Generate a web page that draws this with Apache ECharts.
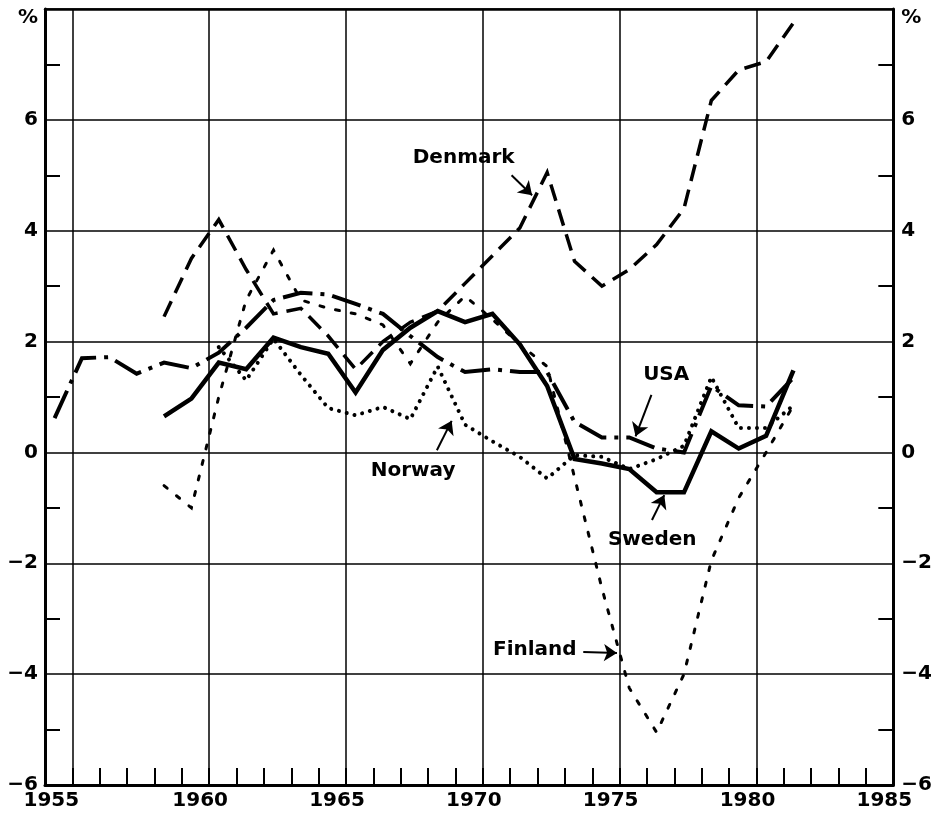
<!DOCTYPE html>
<html>
<head>
<meta charset="utf-8">
<script src="https://cdn.jsdelivr.net/npm/echarts@6/dist/echarts.min.js"></script>
<style>
  html, body { margin: 0; padding: 0; background: #fff; }
  #chart { width: 935px; height: 813px; }
</style>
</head>
<body>
<div id="chart"></div>
<script>
// Annual percentage change, 1954-1981
const years = [1954, 1955, 1956, 1957, 1958, 1959, 1960, 1961, 1962, 1963,
               1964, 1965, 1966, 1967, 1968, 1969, 1970, 1971, 1972, 1973,
               1974, 1975, 1976, 1977, 1978, 1979, 1980, 1981];

const usa = [0.62, 1.70, 1.72, 1.42, 1.62, 1.52, 1.80, 2.25, 2.75, 2.88,
             2.85, 2.68, 2.50, 2.10, 1.72, 1.45, 1.50, 1.45, 1.45, 0.55,
             0.27, 0.27, 0.07, 0.00, 1.20, 0.85, 0.83, 1.35];

const sweden = [null, null, null, null, 0.65, 0.97, 1.62, 1.50, 2.07, 1.90,
                1.78, 1.08, 1.85, 2.25, 2.55, 2.35, 2.50, 1.95, 1.20, -0.12,
                -0.20, -0.30, -0.72, -0.72, 0.38, 0.07, 0.30, 1.48];

const denmark = [null, null, null, null, 2.45, 3.50, 4.20, 3.30, 2.50, 2.60,
                 2.10, 1.50, 2.00, 2.35, 2.55, 3.05, 3.55, 4.05, 5.05, 3.45,
                 3.00, 3.30, 3.75, 4.40, 6.35, 6.90, 7.05, 7.75];

const finland = [null, null, null, null, -0.60, -1.00, 1.00, 2.75, 3.65, 2.75,
                 2.60, 2.50, 2.30, 1.60, 2.35, 2.82, 2.40, 1.95, 1.55, -0.45,
                 -2.45, -4.25, -5.05, -4.00, -1.95, -0.82, 0.00, 0.85];

const norway = [null, null, null, null, null, null, 1.90, 1.30, 2.05, 1.40,
                0.80, 0.67, 0.82, 0.60, 1.55, 0.50, 0.20, -0.08, -0.47, -0.05,
                -0.08, -0.30, -0.12, 0.12, 1.36, 0.44, 0.44, 0.85];

// Axis tick labels
const xTickLabels = [1955, 1960, 1965, 1970, 1975, 1980, 1985];
const yUnitLabel = '%';

// Yearly values sit a little to the right of each year's tick
const PLOT_OFFSET = 0.35;

const FONT = 'DejaVu Sans';
const INK = '#000';

function toPoints(values) {
  const pts = [];
  years.forEach((y, i) => {
    if (values[i] !== null) pts.push([y + PLOT_OFFSET, values[i]]);
  });
  return pts;
}

// Name labels with pointer arrows, in data coordinates
const annotations = {
  Denmark: { at: [1969.3, 5.31], arrow: [[1971.05, 5.0], [1971.8, 4.64]] },
  USA:     { at: [1976.7, 1.40], arrow: [[1976.16, 1.04], [1975.58, 0.29]] },
  Norway:  { at: [1967.45, -0.33], arrow: [[1968.32, 0.04], [1968.86, 0.57]] },
  Sweden:  { at: [1976.19, -1.58], arrow: [[1976.18, -1.22], [1976.63, -0.77]] },
  Finland: { at: [1971.9, -3.56], arrow: [[1973.67, -3.6], [1974.9, -3.62]] }
};

function makeSeries(name, values, lineStyle, z) {
  const a = annotations[name];
  return {
    name: name,
    type: 'line',
    xAxisIndex: 0,
    yAxisIndex: 0,
    symbol: 'none',
    z: z,
    data: toPoints(values),
    lineStyle: Object.assign({ color: INK, join: 'miter' }, lineStyle),
    markLine: {
      silent: true,
      symbol: ['none', 'arrow'],
      symbolSize: 13,
      lineStyle: { type: 'solid', color: INK, width: 2 },
      itemStyle: { color: INK },
      label: { show: false },
      data: [[{ coord: a.arrow[0] }, { coord: a.arrow[1] }]]
    },
    markPoint: {
      silent: true,
      symbol: 'circle',
      symbolSize: 1,
      itemStyle: { color: 'rgba(0,0,0,0)' },
      label: {
        show: true,
        position: 'inside',
        formatter: name,
        color: INK,
        fontFamily: FONT,
        fontWeight: 'bold',
        fontSize: 20
      },
      data: [{ coord: a.at }]
    }
  };
}

const yearTicks = [];
for (let y = 1954; y <= 1985; y++) yearTicks.push(y);
const gridYears = xTickLabels.filter(y => y < 1985);

const labelText = { color: INK, fontFamily: FONT, fontWeight: 'bold', fontSize: 20 };

function yLabel(v) {
  if (v === 8) return '{u|' + yUnitLabel + '}';
  return v < 0 ? '\u2212' + Math.abs(v) : String(v);
}

const yAxisBase = {
  type: 'value',
  min: -6,
  max: 8,
  interval: 2,
  axisLine: { show: true, onZero: false, lineStyle: { color: INK, width: 3 } },
  axisTick: { show: false, inside: true },
  minorTick: { show: true, splitNumber: 2, length: 15, lineStyle: { color: INK, width: 2 } },
  minorSplitLine: { show: false }
};

const chart = echarts.init(document.getElementById('chart'), null, { renderer: 'canvas' });

chart.setOption({
  animation: false,
  backgroundColor: '#fff',
  grid: { left: 45, right: 40, top: 9, bottom: 28, containLabel: false },
  xAxis: [
    {
      type: 'value',
      min: 1954,
      max: 1985,
      position: 'bottom',
      axisLine: { show: true, onZero: false, lineStyle: { color: INK, width: 3 } },
      axisTick: { show: true, inside: true, length: 17, customValues: yearTicks,
                  lineStyle: { color: INK, width: 2 } },
      axisLabel: Object.assign({
        customValues: xTickLabels,
        margin: 6,
        formatter: v => (v === 1955 ? '{f|' + v + '}' : '{n|' + v + '}'),
        rich: {
          f: Object.assign({ padding: [0, 42, 0, 0] }, labelText),
          n: Object.assign({ padding: [0, 18, 0, 0] }, labelText)
        }
      }, labelText),
      splitLine: { show: false }
    },
    {
      type: 'value',
      min: 1954,
      max: 1985,
      position: 'top',
      axisLine: { show: true, onZero: false, lineStyle: { color: INK, width: 2.5 } },
      axisTick: { show: false, customValues: gridYears },
      axisLabel: { show: false },
      splitLine: { show: true, lineStyle: { color: INK, width: 1.5 } }
    }
  ],
  yAxis: [
    Object.assign({}, yAxisBase, {
      position: 'left',
      axisLabel: Object.assign({
        margin: 7,
        formatter: yLabel,
        rich: { u: Object.assign({ padding: [18, 0, 0, 0] }, labelText) }
      }, labelText),
      splitLine: { show: true, lineStyle: { color: INK, width: 1.5 } }
    }),
    Object.assign({}, yAxisBase, {
      position: 'right',
      axisLabel: Object.assign({
        margin: 8,
        formatter: yLabel,
        rich: { u: Object.assign({ padding: [18, 0, 0, 0] }, labelText) }
      }, labelText),
      splitLine: { show: false }
    })
  ],
  series: [
    makeSeries('Finland', finland, { width: 3, type: [4, 12], cap: 'round' }, 2),
    makeSeries('Norway', norway, { width: 4, type: [0.01, 8], cap: 'round' }, 3),
    makeSeries('Denmark', denmark, { width: 3.5, type: [17, 9], cap: 'butt' }, 4),
    makeSeries('USA', usa, { width: 4, type: [30, 8, 4, 8], cap: 'butt' }, 5),
    makeSeries('Sweden', sweden, { width: 4.5, type: 'solid', cap: 'butt' }, 6)
  ]
});
</script>
</body>
</html>
